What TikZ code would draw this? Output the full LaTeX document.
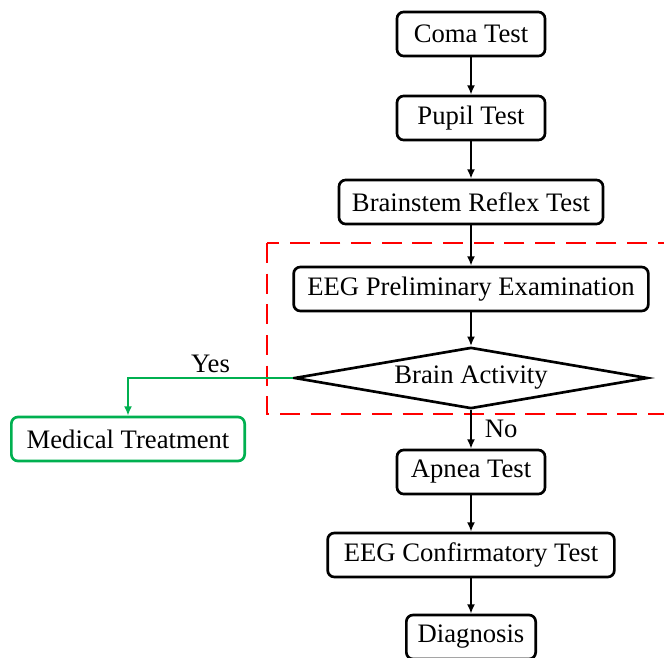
\documentclass[tikz,border=0pt]{standalone}
\usepackage{fontspec}
\setmainfont{Liberation Serif}
\usetikzlibrary{shapes.geometric,arrows.meta}
\definecolor{okgreen}{RGB}{0,176,80}
\begin{document}
\begin{tikzpicture}[x=0.75pt, y=-0.75pt, >={Latex[length=7pt,width=6pt]}, line width=2pt,
    every node/.style={font=\fontsize{20}{24}\selectfont},
    stepbox/.style={draw, rounded corners=5pt, minimum height=33pt}]
    \useasboundingbox (0,0) rectangle (664,657);
    \clip (0,0) rectangle (664,657);
    \node[stepbox, minimum width=111pt] (coma) at (471,34) {Coma Test};
    \node[stepbox, minimum width=111pt] (pupil) at (471,118) {Pupil Test};
    \node[stepbox, minimum width=198pt] (reflex) at (471,202) {Brainstem Reflex Test};
    \node[stepbox, minimum width=266pt] (prelim) at (471,289) {EEG Preliminary Examination};
    \node[draw, diamond, aspect=6, inner sep=0pt, minimum width=265pt, minimum height=46pt] (act) at (471,378) {Brain Activity};
    \node[stepbox, draw=okgreen, minimum width=175pt] (med) at (128,439) {Medical Treatment};
    \node[stepbox, minimum width=111pt] (apnea) at (471,472) {Apnea Test};
    \node[stepbox, minimum width=215pt] (confirm) at (471,555) {EEG Confirmatory Test};
    \node[stepbox, minimum width=97pt] (diag) at (471,637) {Diagnosis};
    \draw[red, line width=2.2pt, dash pattern=on 15pt off 8pt] (267,243) rectangle (700,414);
    \draw[->] (coma)--(pupil);
    \draw[->] (pupil)--(reflex);
    \draw[->] (reflex)--(prelim);
    \draw[->] (prelim)--(act);
    \draw[->] (act)--node[right, xshift=6pt]{No}(apnea);
    \draw[->] (apnea)--(confirm);
    \draw[->] (confirm)--(diag);
    \draw[->, okgreen, line width=1.5pt] (act.west) -| node[pos=0.25, above, black]{Yes} (med.north);
\end{tikzpicture}
\end{document}
